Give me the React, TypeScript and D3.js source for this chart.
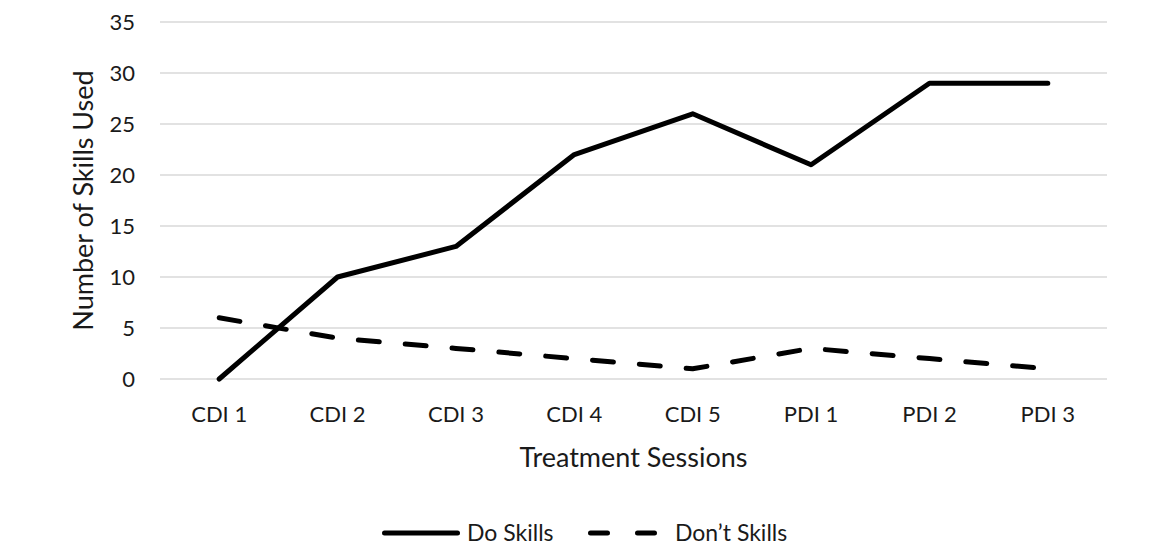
import * as d3 from 'd3';

const sessions = ['CDI 1', 'CDI 2', 'CDI 3', 'CDI 4', 'CDI 5', 'PDI 1', 'PDI 2', 'PDI 3'];
const doSkills = [0, 10, 13, 22, 26, 21, 29, 29];
const dontSkills = [6, 4, 3, 2, 1, 3, 2, 1];
const yTicks = [0, 5, 10, 15, 20, 25, 30, 35];

const W = 1164;
const H = 545;
const margin = { top: 22, right: 57, bottom: 166, left: 160 };
const font = 'Lato, "Open Sans", sans-serif';

export default function App() {
  const x = d3
    .scaleBand<string>()
    .domain(sessions)
    .range([margin.left, W - margin.right]);
  const y = d3
    .scaleLinear()
    .domain([0, 35])
    .range([H - margin.bottom, margin.top]);

  const line = d3
    .line<number>()
    .x((_, i) => (x(sessions[i]) ?? 0) + x.bandwidth() / 2)
    .y((d) => y(d));

  const plotBottom = H - margin.bottom;

  return (
    <svg
      width={W}
      height={H}
      style={{ position: 'absolute', left: 0, top: 0, background: '#fff' }}
      fontFamily={font}
    >
      {yTicks.map((t) => (
        <g key={t}>
          <line
            x1={margin.left}
            x2={W - margin.right}
            y1={y(t)}
            y2={y(t)}
            stroke="#d9d9d9"
            strokeWidth={1.5}
          />
          <text x={135} y={y(t)} dy="0.36em" textAnchor="end" fontSize={22} fill="#1a1a1a">
            {t}
          </text>
        </g>
      ))}
      {sessions.map((s) => (
        <text
          key={s}
          x={(x(s) ?? 0) + x.bandwidth() / 2}
          y={plotBottom + 35}
          dy="0.36em"
          textAnchor="middle"
          fontSize={22}
          fill="#1a1a1a"
        >
          {s}
        </text>
      ))}
      <text
        transform={`translate(83, ${(margin.top + plotBottom) / 2}) rotate(-90)`}
        dy="0.36em"
        textAnchor="middle"
        fontSize={27}
        fill="#1a1a1a"
      >
        Number of Skills Used
      </text>
      <text
        x={(margin.left + W - margin.right) / 2}
        y={457}
        dy="0.36em"
        textAnchor="middle"
        fontSize={27}
        fill="#1a1a1a"
      >
        Treatment Sessions
      </text>

      <path
        d={line(dontSkills) ?? ''}
        fill="none"
        stroke="#000"
        strokeWidth={5}
        strokeLinecap="round"
        strokeLinejoin="round"
        strokeDasharray="21 26"
      />
      <path
        d={line(doSkills) ?? ''}
        fill="none"
        stroke="#000"
        strokeWidth={5}
        strokeLinecap="round"
        strokeLinejoin="round"
      />

      <g>
        <line x1={384.5} x2={457.5} y1={533} y2={533} stroke="#000" strokeWidth={5} strokeLinecap="round" />
        <text x={467} y={533} dy="0.36em" fontSize={23} fill="#1a1a1a">
          Do Skills
        </text>
        <line
          x1={590.5}
          x2={657.5}
          y1={533}
          y2={533}
          stroke="#000"
          strokeWidth={5}
          strokeLinecap="round"
          strokeDasharray="17 30"
        />
        <text x={675} y={533} dy="0.36em" fontSize={23} fill="#1a1a1a">
          Don’t Skills
        </text>
      </g>
    </svg>
  );
}
